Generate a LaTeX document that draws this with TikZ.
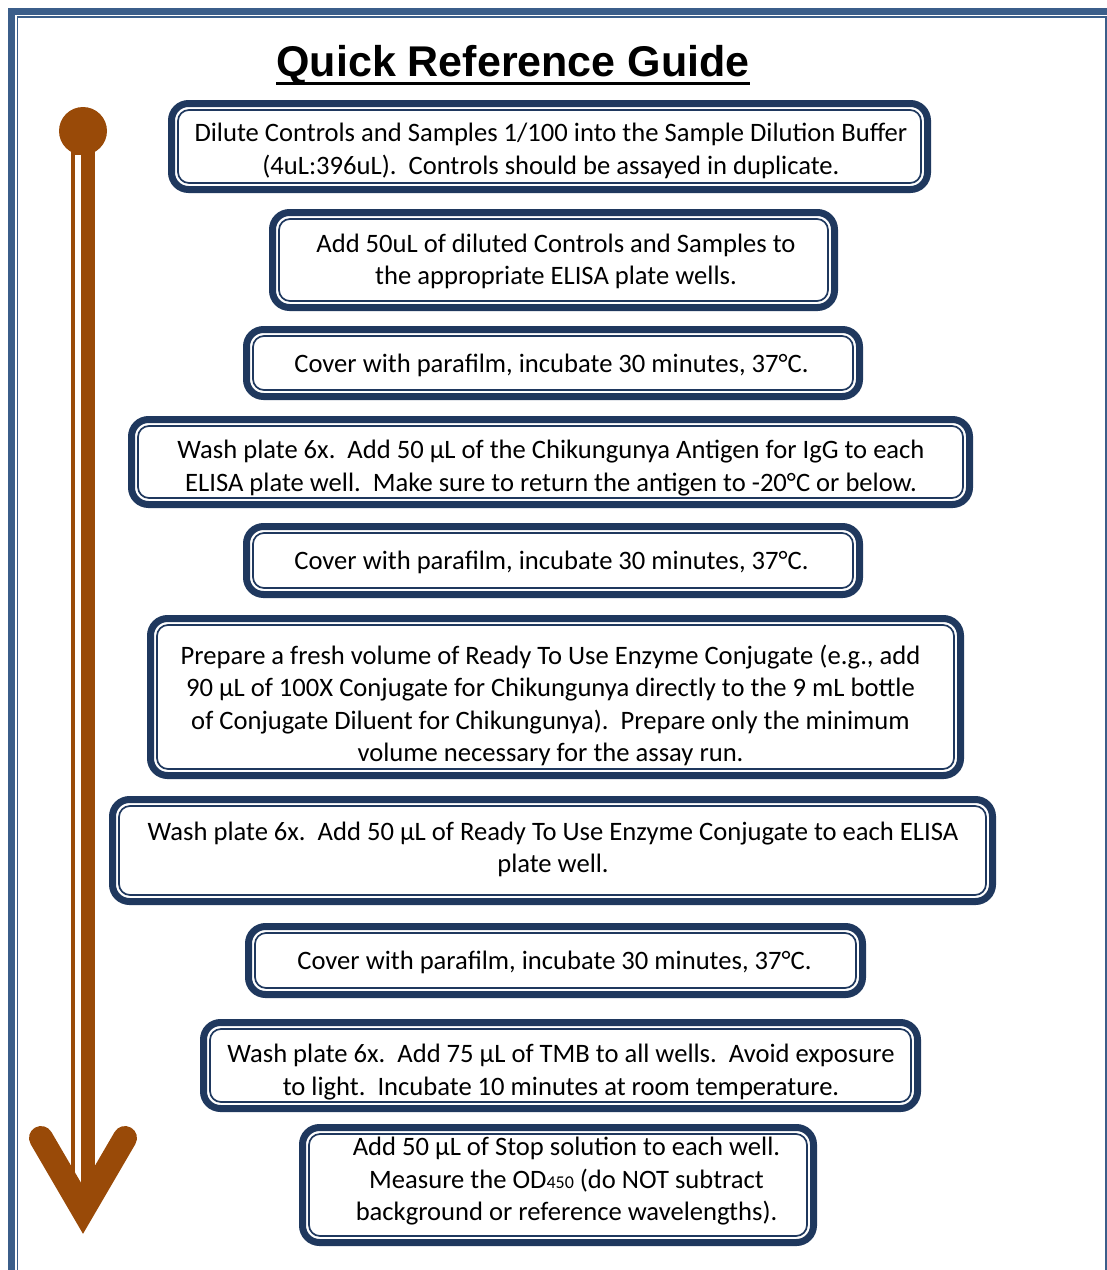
\documentclass[tikz,border=0pt]{standalone}
\usepackage{fontspec}
\setmainfont{Carlito}
\newfontfamily\titlefont{Liberation Sans}
\usetikzlibrary{fit}
\definecolor{frameblue}{RGB}{59,94,138}
\definecolor{navy}{RGB}{31,56,94}
\definecolor{arrowbrown}{RGB}{153,74,8}
\begin{document}
\begin{tikzpicture}[x=0.5pt,y=-0.5pt,
  stepbox/.style={draw=navy, line width=3.5pt, rounded corners=8.5pt, inner sep=0pt},
  innerline/.style={draw=navy, line width=0.85pt, rounded corners=5.5pt},
  steptext/.style={align=center, font=\fontsize{13.3}{16.25}\selectfont, inner sep=0pt, text=black},
  titletext/.style={font=\titlefont\bfseries\fontsize{21.5}{25}\selectfont, inner sep=0pt, anchor=base}]
\useasboundingbox (0,0) rectangle (1107,1270);
% page frame
\begin{scope}
  \clip (0,0) rectangle (1107,1270);
  \draw[frameblue, line width=3.35pt] (11.7,11.5) rectangle (1116,1300);
  \draw[frameblue, line width=0.75pt] (17.7,17.2) rectangle (1106,1300);
\end{scope}
% title
\node[titletext] (title) at (513,76) {Quick Reference Guide};
\draw[black, line width=1.5pt] ([yshift=-3.5pt]title.base west) -- ([yshift=-3.5pt]title.base east);
% arrow
\node[circle, fill=arrowbrown, minimum size=24pt, inner sep=0pt] (start) at (83,131) {};
\coordinate (tip) at (83,1210);
\fill[arrowbrown] (71,140) rectangle (95,1205);
\fill[white] (75,155) rectangle (81,1190);
\draw[arrowbrown, line width=12pt, line cap=round, line join=miter] (41,1138) -- (tip) -- (125,1138);
% boxes
\newcommand\qbox[5]{%
  \node[stepbox, fit={(#2+3.5,#3+3.5) (#4-3.5,#5-3.5)}] (#1) {};
  \path[innerline] (#2+10,#3+10) rectangle (#4-10,#5-10);
}
\qbox{b1}{168}{100}{931}{193}
\qbox{b2}{269}{209}{838}{311}
\qbox{b3}{243}{326}{863}{400}
\qbox{b4}{128}{416}{973}{508}
\qbox{b5}{243}{523}{863}{598}
\qbox{b6}{147}{615}{964}{779}
\qbox{b7}{109}{796}{996}{905}
\qbox{b8}{245}{923}{866}{998}
\qbox{b9}{200}{1019}{921}{1112}
\qbox{b10}{299}{1124}{817}{1246}
% texts
\node[steptext] (t1) at (551,151) {Dilute Controls and Samples 1/100 into the Sample Dilution Buffer\\(4uL:396uL).\ \ Controls should be assayed in duplicate.};
\node[steptext] (t2) at (556,261.5) {Add 50uL of diluted Controls and Samples to\\the appropriate ELISA plate wells.};
\node[steptext] (t3) at (551.5,365) {Cover with parafilm, incubate 30 minutes, 37°C.};
\node[steptext] (t4) at (551,468) {Wash plate 6x.\ \ Add 50 µL of the Chikungunya Antigen for IgG to each\\ELISA plate well.\ \ Make sure to return the antigen to -20°C or below.};
\node[steptext] (t5) at (551.5,562) {Cover with parafilm, incubate 30 minutes, 37°C.};
\node[steptext] (t6) at (550.5,705.5) {Prepare a fresh volume of Ready To Use Enzyme Conjugate (e.g., add\\90 µL of 100X Conjugate for Chikungunya directly to the 9 mL bottle\\of Conjugate Diluent for Chikungunya).\ \ Prepare only the minimum\\volume necessary for the assay run.};
\node[steptext] (t7) at (553,849.5) {Wash plate 6x.\ \ Add 50 µL of Ready To Use Enzyme Conjugate to each ELISA\\plate well.};
\node[steptext] (t8) at (554.5,962) {Cover with parafilm, incubate 30 minutes, 37°C.};
\node[steptext] (t9) at (561,1072) {Wash plate 6x.\ \ Add 75 µL of TMB to all wells.\ \ Avoid exposure\\to light.\ \ Incubate 10 minutes at room temperature.};
\node[steptext] (t10) at (566.5,1181.5) {Add 50 µL of Stop solution to each well.\\Measure the OD{\fontsize{9}{9}\selectfont 450} (do NOT subtract\\background or reference wavelengths).};
\end{tikzpicture}
\end{document}
